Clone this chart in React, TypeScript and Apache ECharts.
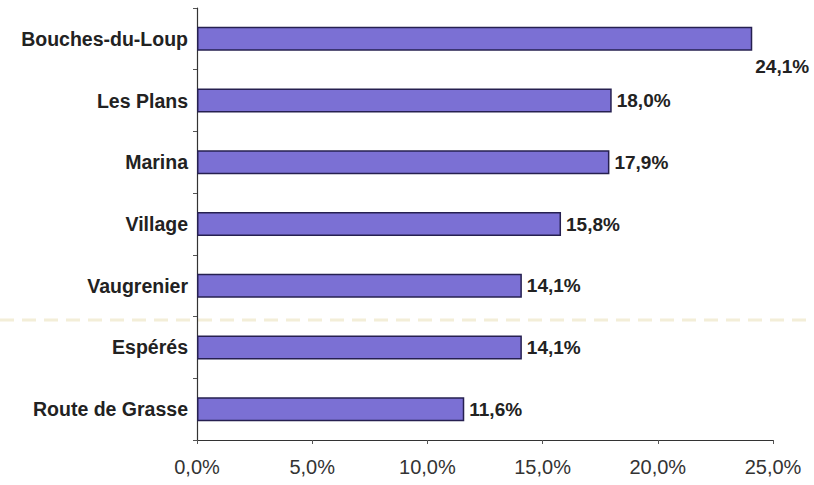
import React, { useEffect, useRef } from "react";
import * as echarts from "echarts";

const categories = ["Bouches-du-Loup", "Les Plans", "Marina", "Village", "Vaugrenier", "Espérés", "Route de Grasse"];
const values = [24.1, 18.0, 17.9, 15.8, 14.1, 14.1, 11.6];
const xTicks = [0, 5, 10, 15, 20, 25];

const fmt = (v: number) => v.toFixed(1).replace(".", ",") + "%";

export default function App() {
  const ref = useRef<HTMLDivElement>(null);
  useEffect(() => {
    if (!ref.current) return;
    const chart = echarts.init(ref.current, null, { renderer: "svg" });
    const maxV = Math.max(...values);
    chart.setOption({
      animation: false,
      backgroundColor: "#ffffff",
      textStyle: { fontFamily: "Liberation Sans, Arial, sans-serif" },
      grid: { left: 197, right: 41, top: 8, bottom: 45, containLabel: false },
      graphic: [
        {
          type: "line",
          shape: { x1: 0, y1: 320, x2: 814, y2: 320 },
          style: { stroke: "#f3eed8", lineWidth: 3, lineDash: [14, 8] },
          z: 0,
        },
      ],
      xAxis: {
        type: "value",
        min: xTicks[0],
        max: xTicks[xTicks.length - 1],
        interval: 5,
        splitLine: { show: false },
        axisLine: { show: true, lineStyle: { color: "#333", width: 1.2 } },
        axisTick: { show: true, length: 4, lineStyle: { color: "#555" } },
        axisLabel: {
          formatter: (v: number) => fmt(v),
          fontSize: 20,
          color: "#333",
          margin: 17,
          fontFamily: "Liberation Sans, Arial, sans-serif",
        },
      },
      yAxis: {
        type: "category",
        data: categories,
        inverse: true,
        axisLine: { show: true, lineStyle: { color: "#333", width: 1.2 } },
        axisTick: { show: true, length: 4, lineStyle: { color: "#555" } },
        axisLabel: {
          fontSize: 19.5,
          fontWeight: "bold",
          color: "#222",
          margin: 9,
          fontFamily: "Liberation Sans, Arial, sans-serif",
        },
      },
      series: [
        {
          type: "bar",
          data: values.map((v) => ({
            value: v,
            label:
              v === maxV
                ? { position: "right", offset: [-2, 28] }
                : undefined,
          })),
          barWidth: 24,
          itemStyle: { color: "#7b70d4", borderColor: "#262050", borderWidth: 1.5 },
          label: {
            show: true,
            position: "right",
            distance: 5,
            formatter: (p: any) => fmt(p.value),
            fontSize: 19,
            fontWeight: "bold",
            color: "#222",
            fontFamily: "Liberation Sans, Arial, sans-serif",
          },
        },
      ],
    });
    return () => chart.dispose();
  }, []);
  return <div ref={ref} style={{ width: 814, height: 485, position: "absolute", left: 0, top: 0 }} />;
}
